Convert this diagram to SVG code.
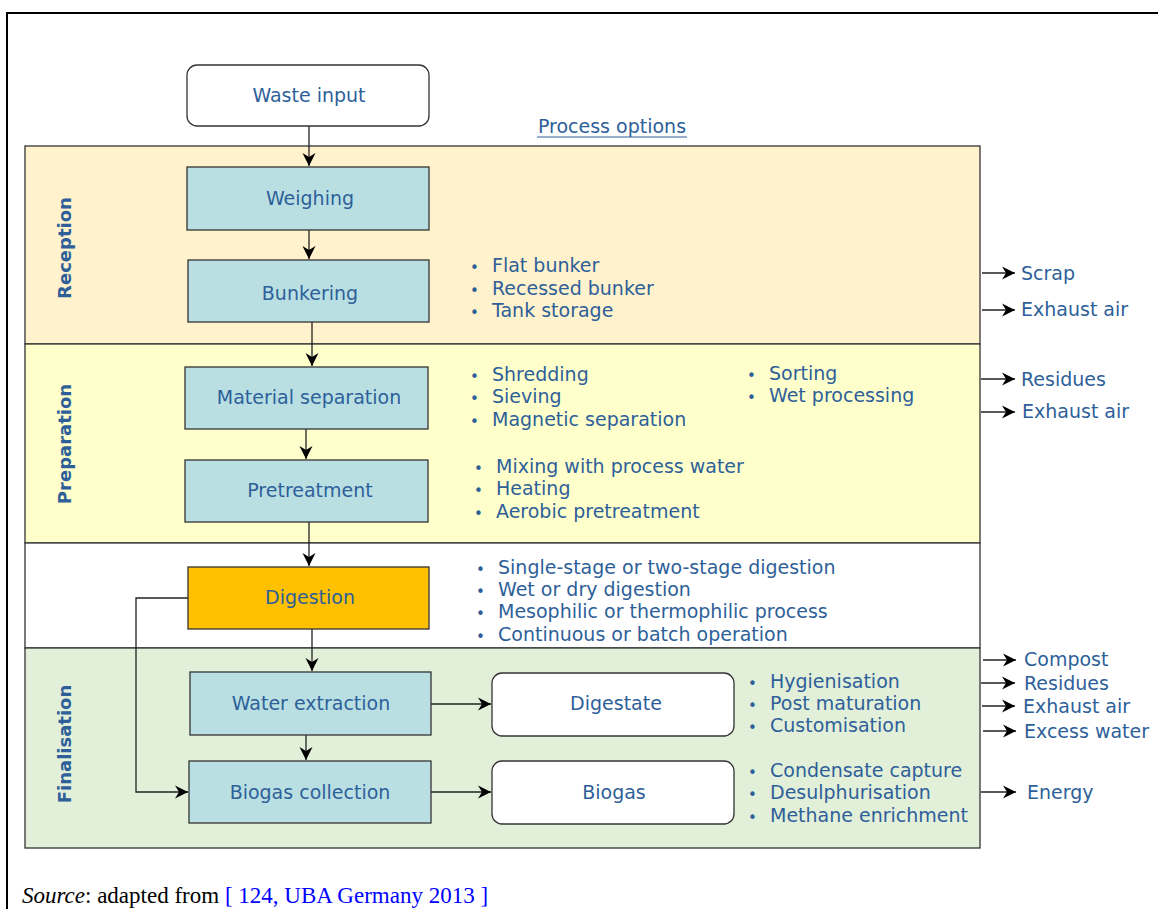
<svg xmlns="http://www.w3.org/2000/svg" width="1158" height="909" viewBox="0 0 1158 909">
<style>
.t{font-family:"DejaVu Sans",Verdana,sans-serif;font-size:19px;fill:#2e5f99}
.c{text-anchor:middle}
.b{font-size:15px}
.lab{font-family:"DejaVu Sans",Verdana,sans-serif;font-size:18px;font-weight:bold;fill:#2e5f99;text-anchor:middle}
.box{fill:#b9dfe3;stroke:#333;stroke-width:1.3}
.rbox{fill:#fff;stroke:#333;stroke-width:1.3}
.band{stroke:#333;stroke-width:1.3}
.cn{fill:none;stroke:#222;stroke-width:1.3}
.out{fill:none;stroke:#222;stroke-width:1.3}
</style>
<defs>
<marker id="ah" markerUnits="userSpaceOnUse" markerWidth="16" markerHeight="16" refX="14" refY="7" orient="auto">
<path d="M1,0.5 L14,7 L1,13.5 L5,7 Z" fill="#000"/>
</marker>
</defs>
<rect width="1158" height="909" fill="#fff"/>
<path d="M7,909 V13 H1158" fill="none" stroke="#000" stroke-width="2"/>

<g id="bands">
<rect id="band-reception" class="band" x="25" y="146" width="955" height="198" fill="#fff2cc"/>
<rect id="band-preparation" class="band" x="25" y="344" width="955" height="199" fill="#ffffcc"/>
<rect id="band-digestion" class="band" x="25" y="543" width="955" height="105" fill="#ffffff"/>
<rect id="band-finalisation" class="band" x="25" y="648" width="955" height="200" fill="#e2efd9"/>
<text class="lab" transform="translate(71,248) rotate(-90)">Reception</text>
<text class="lab" transform="translate(71,444) rotate(-90)">Preparation</text>
<text class="lab" transform="translate(71,744) rotate(-90)">Finalisation</text>
</g>

<text class="t c" x="612" y="133">Process options</text>
<line x1="537" y1="137" x2="687" y2="137" stroke="#2e5f99" stroke-width="1"/>

<g id="connectors">
<line class="cn" x1="309" y1="126" x2="309" y2="166" marker-end="url(#ah)"/>
<line class="cn" x1="309" y1="230" x2="309" y2="259" marker-end="url(#ah)"/>
<line class="cn" x1="312" y1="322" x2="312" y2="366" marker-end="url(#ah)"/>
<line class="cn" x1="306" y1="429" x2="306" y2="459" marker-end="url(#ah)"/>
<line class="cn" x1="309" y1="522" x2="309" y2="566" marker-end="url(#ah)"/>
<line class="cn" x1="312" y1="629" x2="312" y2="671" marker-end="url(#ah)"/>
<line class="cn" x1="306" y1="735" x2="306" y2="760" marker-end="url(#ah)"/>
<path class="cn" d="M188,598 H136 V792 H188" marker-end="url(#ah)"/>
<line class="cn" x1="431" y1="704" x2="491" y2="704" marker-end="url(#ah)"/>
<line class="cn" x1="431" y1="792" x2="491" y2="792" marker-end="url(#ah)"/>
<line class="out" x1="982" y1="273" x2="1015" y2="273" marker-end="url(#ah)"/>
<line class="out" x1="982" y1="310" x2="1015" y2="310" marker-end="url(#ah)"/>
<line class="out" x1="981" y1="379" x2="1015" y2="379" marker-end="url(#ah)"/>
<line class="out" x1="981" y1="412" x2="1015" y2="412" marker-end="url(#ah)"/>
<line class="out" x1="983" y1="660" x2="1016" y2="660" marker-end="url(#ah)"/>
<line class="out" x1="981" y1="683" x2="1015" y2="683" marker-end="url(#ah)"/>
<line class="out" x1="982" y1="706" x2="1015" y2="706" marker-end="url(#ah)"/>
<line class="out" x1="983" y1="731" x2="1016" y2="731" marker-end="url(#ah)"/>
<line class="out" x1="981" y1="792" x2="1016" y2="792" marker-end="url(#ah)"/>
</g>

<g id="waste-input"><rect class="rbox" x="187" y="65" width="242" height="61" rx="10"/><text class="t c" x="309" y="102">Waste input</text></g>
<g id="weighing"><rect class="box" x="187" y="167" width="242" height="63"/><text class="t c" x="310" y="205">Weighing</text></g>
<g id="bunkering"><rect class="box" x="188" y="260" width="241" height="62"/><text class="t c" x="310" y="300">Bunkering</text></g>
<g id="material-separation"><rect class="box" x="185" y="367" width="243" height="62"/><text class="t c" x="309" y="404">Material separation</text></g>
<g id="pretreatment"><rect class="box" x="185" y="460" width="243" height="62"/><text class="t c" x="310" y="497">Pretreatment</text></g>
<g id="digestion"><rect x="188" y="567" width="241" height="62" fill="#ffc000" stroke="#333" stroke-width="1.3"/><text class="t c" x="310" y="604">Digestion</text></g>
<g id="water-extraction"><rect class="box" x="190" y="672" width="241" height="63"/><text class="t c" x="311" y="710">Water extraction</text></g>
<g id="biogas-collection"><rect class="box" x="189" y="761" width="242" height="62"/><text class="t c" x="310" y="799">Biogas collection</text></g>
<g id="digestate"><rect class="rbox" x="492" y="673" width="242" height="63" rx="10"/><text class="t c" x="616" y="710">Digestate</text></g>
<g id="biogas"><rect class="rbox" x="492" y="761" width="242" height="63" rx="10"/><text class="t c" x="614" y="799">Biogas</text></g>

<g id="options-reception" class="t">
<text class="b" x="470" y="273">•</text><text x="492" y="272">Flat bunker</text>
<text class="b" x="470" y="296">•</text><text x="492" y="295">Recessed bunker</text>
<text class="b" x="470" y="318">•</text><text x="492" y="317">Tank storage</text>
</g>
<g id="options-separation" class="t">
<text class="b" x="470" y="382">•</text><text x="492" y="381">Shredding</text>
<text class="b" x="470" y="404">•</text><text x="492" y="403">Sieving</text>
<text class="b" x="470" y="427">•</text><text x="492" y="426">Magnetic separation</text>
<text class="b" x="747" y="381">•</text><text x="769" y="380">Sorting</text>
<text class="b" x="747" y="403">•</text><text x="769" y="402">Wet processing</text>
</g>
<g id="options-pretreatment" class="t">
<text class="b" x="474" y="474">•</text><text x="496" y="473">Mixing with process water</text>
<text class="b" x="474" y="496">•</text><text x="496" y="495">Heating</text>
<text class="b" x="474" y="519">•</text><text x="496" y="518">Aerobic pretreatment</text>
</g>
<g id="options-digestion" class="t">
<text class="b" x="476" y="575">•</text><text x="498" y="574">Single-stage or two-stage digestion</text>
<text class="b" x="476" y="597">•</text><text x="498" y="596">Wet or dry digestion</text>
<text class="b" x="476" y="619">•</text><text x="498" y="618">Mesophilic or thermophilic process</text>
<text class="b" x="476" y="642">•</text><text x="498" y="641">Continuous or batch operation</text>
</g>
<g id="options-digestate" class="t">
<text class="b" x="748" y="689">•</text><text x="770" y="688">Hygienisation</text>
<text class="b" x="748" y="711">•</text><text x="770" y="710">Post maturation</text>
<text class="b" x="748" y="733">•</text><text x="770" y="732">Customisation</text>
</g>
<g id="options-biogas" class="t">
<text class="b" x="748" y="778">•</text><text x="770" y="777">Condensate capture</text>
<text class="b" x="748" y="800">•</text><text x="770" y="799">Desulphurisation</text>
<text class="b" x="748" y="823">•</text><text x="770" y="822">Methane enrichment</text>
</g>

<g id="outputs" class="t">
<text x="1021" y="280">Scrap</text>
<text x="1021" y="316">Exhaust air</text>
<text x="1021" y="386">Residues</text>
<text x="1022" y="418">Exhaust air</text>
<text x="1024" y="666">Compost</text>
<text x="1024" y="690">Residues</text>
<text x="1023" y="713">Exhaust air</text>
<text x="1024" y="738">Excess water</text>
<text x="1027" y="799">Energy</text>
</g>

<text x="22" y="903" font-family="'Liberation Serif','Times New Roman',serif" font-size="23" fill="#000"><tspan font-style="italic">Source</tspan>: adapted from <tspan fill="#0000ff">[ 124, UBA Germany 2013 ]</tspan></text>
</svg>
